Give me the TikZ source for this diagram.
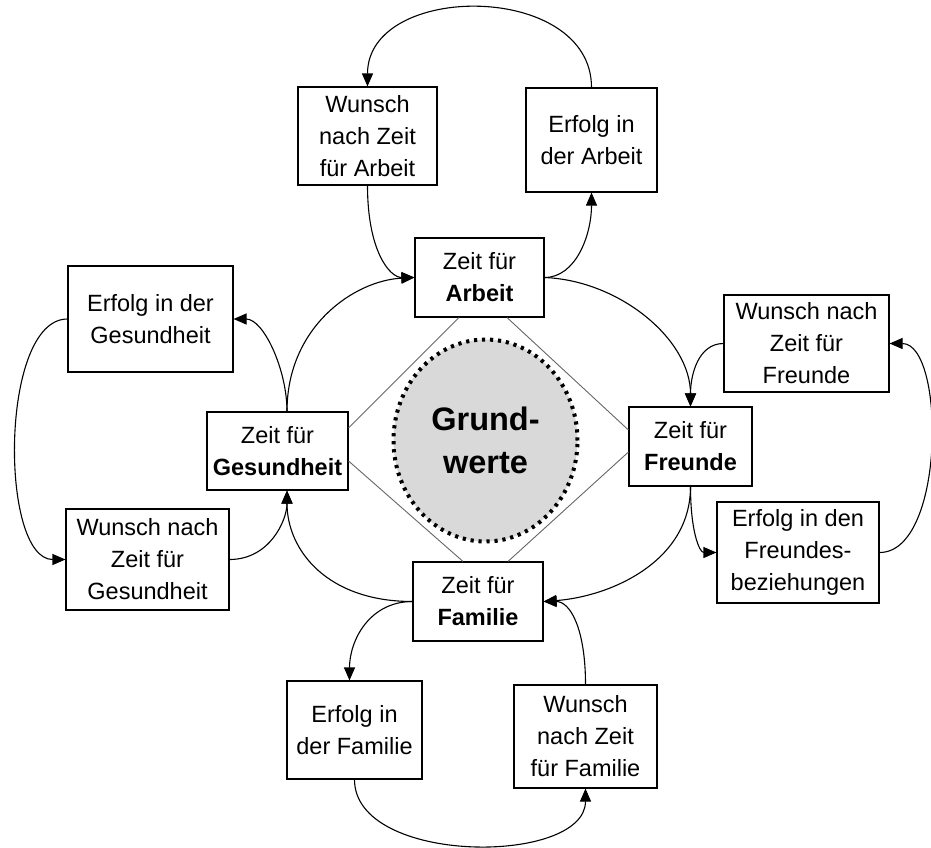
\documentclass[tikz,border=0pt]{standalone}
\usepackage{fontspec}
\setmainfont{Liberation Sans}
\usetikzlibrary{arrows.meta,shapes.geometric}
\begin{document}
\begin{tikzpicture}[x=1pt,y=-1pt,
 box/.style={draw,line width=1.1pt,rectangle,inner sep=0pt,align=center,font=\fontsize{23.5}{32}\selectfont},
 arr/.style={line width=1.1pt,-{Triangle[length=13pt,width=11pt]}},
 diag/.style={line width=0.9pt,draw=black!60},
 core/.style={ellipse,fill=black!15,draw,line width=4pt,dash pattern=on 3.2pt off 4.8pt,inner sep=0pt,align=center,font=\fontsize{32.5}{43}\selectfont\bfseries}
 ]
\useasboundingbox (0,0) rectangle (931,847);
% boxes
\node[box,minimum width=139pt,minimum height=98pt]  (WA)   at (367.5,136)   {Wunsch\\nach Zeit\\für Arbeit};
\node[box,minimum width=131pt,minimum height=104pt] (EA)   at (591.5,140)   {Erfolg in\\der Arbeit};
\node[box,minimum width=129pt,minimum height=79pt]  (ZA)   at (479.5,277.5) {Zeit für\\\textbf{Arbeit}};
\node[box,minimum width=165pt,minimum height=106pt] (EG)   at (150.5,319)   {Erfolg in der\\Gesundheit};
\node[box,minimum width=141pt,minimum height=78pt]  (ZG)   at (277.5,451)   {Zeit für\\\textbf{Gesundheit}};
\node[box,minimum width=163pt,minimum height=101pt] (WG)   at (147.5,559.5) {Wunsch nach\\Zeit für\\Gesundheit};
\node[box,minimum width=165pt,minimum height=97pt]  (WF)   at (806.5,343.5) {Wunsch nach\\Zeit für\\Freunde};
\node[box,minimum width=123pt,minimum height=79pt]  (ZF)   at (690.5,446.5) {Zeit für\\\textbf{Freunde}};
\node[box,minimum width=162pt,minimum height=101pt] (EF)   at (798,552.5)   {Erfolg in den\\Freundes-\\beziehungen};
\node[box,minimum width=130pt,minimum height=79pt]  (ZFam) at (478,601.5)   {Zeit für\\\textbf{Familie}};
\node[box,minimum width=135pt,minimum height=98pt]  (EFam) at (354.5,730)   {Erfolg in\\der Familie};
\node[box,minimum width=143pt,minimum height=103pt] (WFam) at (585.5,736.5) {Wunsch\\nach Zeit\\für Familie};
% core
\node[core,minimum width=184pt,minimum height=202pt] (GW) at (485.5,440.5) {Grund-\\werte};
% diamond
\draw[diag] ([xshift=-20.5pt]ZA.south) -- ([yshift=23pt]ZG.east);
\draw[diag] ([xshift=27.5pt]ZA.south) -- ([yshift=16.5pt]ZF.west);
\draw[diag] ([yshift=-10pt]ZG.east) -- ([xshift=-15pt]ZFam.north);
\draw[diag] ([yshift=-5.5pt]ZF.west) -- ([xshift=30pt]ZFam.north);
% arrows
\draw[arr] (EA.north) .. controls +(0,-106) and +(0,-105) .. (WA.north);
\draw[arr] (WA.south) .. controls +(0,65) and +(-25,0) .. (ZA.west);
\draw[arr] (ZA.east) .. controls +(31,0) and +(0,43) .. (EA.south);
\draw[arr] ([xshift=9.5pt]ZG.north) .. controls +(0,-42) and +(30,0) .. (EG.east);
\draw[arr] ([xshift=9.5pt]ZG.north) .. controls +(0,-85) and +(-60,3) .. (ZA.west);
\draw[arr] (EG.west) .. controls +(-68,0) and +(-66,0) .. (WG.west);
\draw[arr] (WG.east) .. controls +(40,0) and +(0,30) .. ([xshift=9.5pt]ZG.south);
\draw[arr] (ZFam.west) .. controls +(-85,0) and +(0,60) .. ([xshift=9.5pt]ZG.south);
\draw[arr] (ZA.east) .. controls +(75,3) and +(0,-67) .. (ZF.north);
\draw[arr] (WF.west) .. controls +(-25,0) and +(0,-32) .. (ZF.north);
\draw[arr] (ZF.south) .. controls +(0,45) and +(-17,0) .. (EF.west);
\draw[arr] (EF.east) .. controls +(66,0) and +(56,0) .. (WF.east);
\draw[arr] (ZF.south) .. controls +(0,75) and +(67,-5) .. (ZFam.east);
\draw[arr] (ZFam.west) .. controls +(-43,0) and +(0,-40) .. ([xshift=-5pt]EFam.north);
\draw[arr] (WFam.north) .. controls +(0,-55) and +(27,0) .. (ZFam.east);
\draw[arr] (EFam.south) .. controls +(0,86) and +(0,77) .. (WFam.south);
\end{tikzpicture}
\end{document}
